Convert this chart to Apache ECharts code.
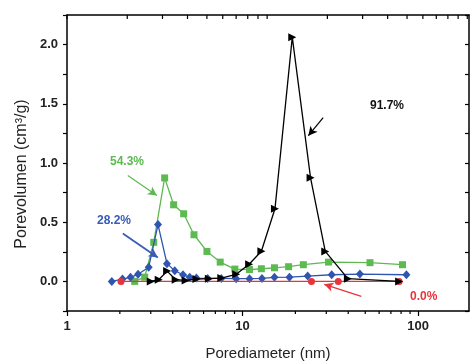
<!DOCTYPE html>
<html><head><meta charset="utf-8">
<script src="https://cdn.jsdelivr.net/npm/echarts@6/dist/echarts.min.js"></script>
<style>html,body{margin:0;padding:0;background:#fff}#c{width:471px;height:361px}</style>
</head><body><div id="c"></div>
<script>
// ---- data ----
var blackX = [3.0, 3.33, 3.72, 4.16, 4.74, 5.46, 6.43, 7.57, 9.2, 10.9, 12.8, 15.3, 19.2, 24.4, 29.6, 39.8, 78];
var blackY = [0.0, 0.014, 0.087, 0.014, 0.008, 0.02, 0.023, 0.028, 0.06, 0.145, 0.255, 0.613, 2.063, 0.875, 0.253, 0.023, 0.0];
var blueX = [1.80, 2.07, 2.30, 2.54, 2.92, 3.30, 3.71, 4.11, 4.58, 5.0, 5.46, 6.33, 7.57, 9.2, 10.96, 12.9, 15.2, 18.5, 23.5, 32.2, 46.6, 85.8];
var blueY = [0.0, 0.02, 0.034, 0.06, 0.12, 0.48, 0.15, 0.09, 0.056, 0.036, 0.028, 0.025, 0.025, 0.023, 0.023, 0.025, 0.034, 0.036, 0.045, 0.056, 0.062, 0.056];
var greenX = [2.43, 2.77, 3.12, 3.6, 4.05, 4.62, 5.29, 6.27, 7.46, 9.04, 10.96, 12.8, 15.2, 18.3, 22.2, 30.9, 53.2, 81.5];
var greenY = [0.0, 0.036, 0.33, 0.874, 0.647, 0.571, 0.394, 0.253, 0.163, 0.104, 0.10, 0.107, 0.115, 0.124, 0.141, 0.163, 0.158, 0.141];
var redX = [2.03, 24.7, 35.1, 78];
var redY = [0.0, 0.0, 0.0, 0.0];
var seriesNames = ['91.7%', '54.3%', '28.2%', '0.0%'];
var xMajorTicks = [1, 10, 100];
var xMinorTicks = [2, 3, 4, 5, 6, 7, 8, 9, 20, 30, 40, 50, 60, 70, 80, 90];
// arrows: [fromX, fromY, toX, toY]
var arrowBlack = [28.8, 1.383, 23.7, 1.231];
var arrowGreen = [2.22, 0.894, 3.25, 0.725];
var arrowBlue = [2.08, 0.405, 3.29, 0.202];
var arrowRed = [47.5, -0.126, 29.2, -0.025];

function zip(xs, ys) { return xs.map(function (x, i) { return [x, ys[i]]; }); }
function arrow(a, color, w) {
  return {
    silent: true, animation: false,
    symbol: ['none', 'arrow'], symbolSize: [7, 9],
    lineStyle: { color: color, width: w, type: 'solid' },
    label: { show: false },
    data: [[{ coord: [a[0], a[1]] }, { coord: [a[2], a[3]] }]]
  };
}
var FONT = 'Liberation Sans';
var X_MIN = 1, X_MAX = 195, TOP_MAX = 102, Y_MIN = -0.25, Y_MAX = 2.25;

var chart = echarts.init(document.getElementById('c'), null, { renderer: 'canvas' });
var option = {
  animation: false,
  backgroundColor: '#fff',
  grid: { left: 67, right: 2, top: 15, bottom: 50, containLabel: false, outerBoundsMode: 'none' },
  xAxis: [
    { type: 'log', logBase: 10, min: X_MIN, max: X_MAX, position: 'bottom',
      name: 'Porediameter (nm)', nameLocation: 'middle', nameGap: 35,
      nameTextStyle: { fontFamily: FONT, fontSize: 15, color: '#222' },
      axisLine: { onZero: false, lineStyle: { color: '#000', width: 1.5 } }, splitLine: { show: false },
      axisTick: { show: true, inside: false, length: 5, lineStyle: { color: '#000', width: 1.2 } },
      axisLabel: { fontFamily: FONT, fontSize: 13, fontWeight: 'bold', color: '#222', margin: 9,
        showMaxLabel: false,
        formatter: function (v) { return xMajorTicks.indexOf(Math.round(v)) >= 0 && Math.abs(v - Math.round(v)) < 1e-6 ? String(Math.round(v)) : ''; } }
    },
    // top (mirror) axis: its own log10 scale
    { type: 'value', min: 0, max: Math.log10(TOP_MAX), position: 'top',
      axisLine: { onZero: false, lineStyle: { color: '#000', width: 1.5 } }, splitLine: { show: false },
      axisTick: { show: false }, axisLabel: { show: false }
    }
  ],
  yAxis: [
    { type: 'value', min: Y_MIN, max: Y_MAX, interval: 0.25, position: 'left',
      axisLine: { show: true, onZero: false, lineStyle: { color: '#000', width: 1.5 } }, splitLine: { show: false },
      axisTick: { show: true, inside: false, length: 4, lineStyle: { color: '#000', width: 1.2 } },
      axisLabel: { fontFamily: FONT, fontSize: 13, fontWeight: 'bold', color: '#222', margin: 9,
        formatter: function (v) { var d = v * 2; return Math.abs(d - Math.round(d)) < 1e-6 ? v.toFixed(1) : ''; } }
    },
    { type: 'value', min: Y_MIN, max: Y_MAX, interval: 0.25, position: 'right',
      axisLine: { show: true, onZero: false, lineStyle: { color: '#000', width: 1.5 } }, splitLine: { show: false },
      axisTick: { show: true, inside: true, length: 4, lineStyle: { color: '#000', width: 1.2 } },
      axisLabel: { show: false }
    }
  ],
  series: [
    { name: seriesNames[1], type: 'line', data: zip(greenX, greenY), symbol: 'rect', symbolSize: 7,
      itemStyle: { color: '#5cba50' }, lineStyle: { color: '#5cba50', width: 1.3 }, z: 2,
      markLine: arrow(arrowGreen, '#5cba50', 1.2) },
    { name: seriesNames[2], type: 'line', data: zip(blueX, blueY), symbol: 'diamond', symbolSize: [8, 9],
      itemStyle: { color: '#2f55b0' }, lineStyle: { color: '#2f55b0', width: 1.3 }, z: 3,
      markLine: arrow(arrowBlue, '#3a5cb8', 1.8) },
    { name: seriesNames[3], type: 'line', data: zip(redX, redY), symbol: 'circle', symbolSize: 7,
      itemStyle: { color: '#e8343b' }, lineStyle: { color: '#e8343b', width: 1.3 }, z: 4,
      markLine: arrow(arrowRed, '#e8343b', 1.2) },
    { name: seriesNames[0], type: 'line', data: zip(blackX, blackY), symbol: 'triangle', symbolSize: [8, 8], symbolRotate: -90,
      itemStyle: { color: '#000' }, lineStyle: { color: '#000', width: 1.3 }, z: 5,
      markLine: arrow(arrowBlack, '#000', 1.2) }
  ],
  graphic: [
    { type: 'text', x: 22, y: 174, rotation: Math.PI / 2,
      style: { text: 'Porevolumen (cm³/g)', fill: '#222', font: '16px "Liberation Sans"', align: 'center', verticalAlign: 'middle' } },
    { type: 'text', left: 370, top: 100, style: { text: seriesNames[0], fill: '#111', font: 'bold 12px "Liberation Sans"' } },
    { type: 'text', left: 110, top: 156, style: { text: seriesNames[1], fill: '#5cba50', font: 'bold 12px "Liberation Sans"' } },
    { type: 'text', left: 97, top: 215, style: { text: seriesNames[2], fill: '#3a5cb8', font: 'bold 12px "Liberation Sans"' } },
    { type: 'text', left: 410, top: 291, style: { text: seriesNames[3], fill: '#e8343b', font: 'bold 12px "Liberation Sans"' } }
  ]
};
chart.setOption(option);

// Minor ticks (bottom) and mirror ticks (top), positioned through the axes' own scales
var yBottom = chart.convertToPixel({ yAxisIndex: 0 }, Y_MIN);
var yTop = chart.convertToPixel({ yAxisIndex: 0 }, Y_MAX);
var tickEls = [];
xMinorTicks.forEach(function (v) {
  var px = chart.convertToPixel({ xAxisIndex: 0 }, v);
  tickEls.push({ type: 'line', silent: true, z: 10, shape: { x1: px, y1: yBottom, x2: px, y2: yBottom + 3 }, style: { stroke: '#000', lineWidth: 1.2 } });
});
xMajorTicks.concat(xMinorTicks).forEach(function (v) {
  var px = chart.convertToPixel({ xAxisIndex: 1 }, Math.log10(v));
  tickEls.push({ type: 'line', silent: true, z: 10, shape: { x1: px, y1: yTop, x2: px, y2: yTop + 4 }, style: { stroke: '#000', lineWidth: 1.2 } });
});
chart.setOption({ graphic: option.graphic.concat(tickEls) });
</script>
</body></html>
